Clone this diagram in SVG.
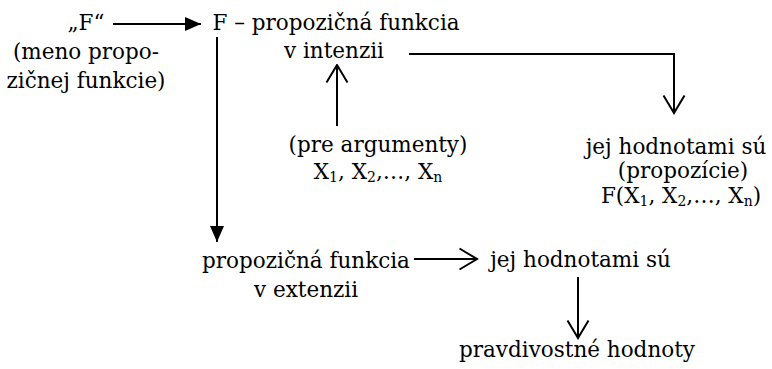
<svg xmlns="http://www.w3.org/2000/svg" width="772" height="369" viewBox="0 0 772 369">
<style>
text{font-family:"DejaVu Serif","Liberation Serif",serif;font-size:21.5px;fill:#000;text-anchor:middle}
.sub{font-size:14px}
.ln{stroke:#000;stroke-width:2;fill:none}
</style>
<defs>
<marker id="fill" markerUnits="userSpaceOnUse" viewBox="0 0 16 14" refX="16" refY="7" markerWidth="16" markerHeight="14" orient="auto">
<path d="M0,0 L16,7 L0,14 Z" fill="#000"/>
</marker>
<marker id="open" markerUnits="userSpaceOnUse" viewBox="0 0 20 24" refX="18.5" refY="12" markerWidth="20" markerHeight="24" orient="auto">
<path d="M1,1.5 L18.5,12 L1,22.5" fill="none" stroke="#000" stroke-width="2"/>
</marker>
</defs>
<g id="n-name">
<text x="86" y="30">„F“</text>
<text x="86" y="59">(meno propo-</text>
<text x="86" y="88">zičnej funkcie)</text>
</g>
<g id="n-intension">
<text x="336" y="30">F – propozičná funkcia</text>
<text x="334" y="58">v intenzii</text>
</g>
<g id="n-arguments">
<text x="378" y="152">(pre argumenty)</text>
<text x="378" y="179">X<tspan class="sub" dy="3">1</tspan><tspan dy="-3">, X</tspan><tspan class="sub" dy="3">2</tspan><tspan dy="-3">,…, X</tspan><tspan class="sub" dy="3">n</tspan></text>
</g>
<g id="n-propositions">
<text x="676" y="154">jej hodnotami sú</text>
<text x="683" y="178">(propozície)</text>
<text x="681" y="203">F(X<tspan class="sub" dy="3">1</tspan><tspan dy="-3">, X</tspan><tspan class="sub" dy="3">2</tspan><tspan dy="-3">,…, X</tspan><tspan class="sub" dy="3">n</tspan><tspan dy="-3">)</tspan></text>
</g>
<g id="n-extension">
<text x="306" y="268">propozičná funkcia</text>
<text x="306" y="297">v extenzii</text>
</g>
<g id="n-values">
<text x="580.5" y="267">jej hodnotami sú</text>
</g>
<g id="n-truth">
<text x="577" y="357">pravdivostné hodnoty</text>
</g>
<g id="connectors">
<line class="ln" x1="113" y1="24" x2="201" y2="24" marker-end="url(#fill)"/>
<line class="ln" x1="217" y1="37" x2="217" y2="242" marker-end="url(#fill)"/>
<line class="ln" x1="337" y1="126" x2="337" y2="65" marker-end="url(#open)"/>
<polyline class="ln" points="409,54 674,54 674,113" marker-end="url(#open)"/>
<line class="ln" x1="414" y1="259" x2="477" y2="259" marker-end="url(#open)"/>
<line class="ln" x1="578" y1="277" x2="578" y2="338" marker-end="url(#open)"/>
</g>
</svg>
